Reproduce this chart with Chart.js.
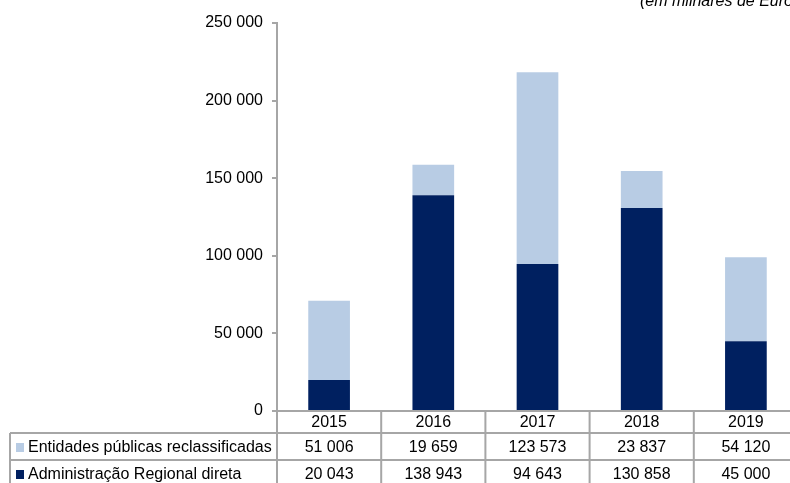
<!DOCTYPE html>
<html>
<head>
<meta charset="utf-8">
<script src="https://cdn.jsdelivr.net/npm/chart.js@4/dist/chart.umd.min.js"></script>
<style>
body { margin: 0; overflow: hidden; background: #fff; }
#wrap { width: 800px; height: 490px; }
</style>
</head>
<body>
<div id="wrap"><canvas id="chart" width="800" height="490"></canvas></div>
<script>
'use strict';

// Data

const years = ['2015', '2016', '2017', '2018', '2019'];
const entidades = [51006, 19659, 123573, 23837, 54120];
const administracao = [20043, 138943, 94643, 130858, 45000];
const seriesNames = ['Entidades públicas reclassificadas', 'Administração Regional direta'];
const unitNote = '(em milhares de Euros)';

const darkBlue = '#002060';
const lightBlue = '#b8cce4';
const lineGray = '#a6a6a6';
const font = '16px "Liberation Sans", Arial, sans-serif';

// Thousands with a space

function fmt(n) {
    return String(n).replace(/\B(?=(\d{3})+(?!\d))/g, ' ');
}

// Data table under the chart

const tablePlugin = {
    id: 'dataTable',
    afterDraw(chart) {
        const ctx = chart.ctx;
        const area = chart.chartArea;
        const colW = (area.right - area.left) / years.length;
        const top = area.bottom;
        const row0 = top + 22;
        const row1 = row0 + 27;
        const row2 = row1 + 28;
        const tableLeft = 10;

        ctx.save();
        ctx.strokeStyle = lineGray;
        ctx.lineWidth = 2;
        ctx.beginPath();
        // horizontal lines
        ctx.moveTo(tableLeft, row0); ctx.lineTo(area.right, row0);
        ctx.moveTo(tableLeft, row1); ctx.lineTo(area.right, row1);
        ctx.moveTo(tableLeft, row2); ctx.lineTo(area.right, row2);
        // vertical lines
        ctx.moveTo(tableLeft, row0); ctx.lineTo(tableLeft, row2);
        for (let i = 0; i <= years.length; i++) {
            const x = area.left + i * colW;
            ctx.moveTo(x, top); ctx.lineTo(x, row2);
        }
        ctx.stroke();

        ctx.font = font;
        ctx.fillStyle = '#000';
        ctx.textBaseline = 'middle';
        ctx.textAlign = 'center';
        for (let i = 0; i < years.length; i++) {
            const cx = chart.scales.x.getPixelForValue(i);
            ctx.fillText(years[i], cx, (top + row0) / 2 + 1);
            ctx.fillText(fmt(entidades[i]), cx, (row0 + row1) / 2 + 1);
            ctx.fillText(fmt(administracao[i]), cx, (row1 + row2) / 2 + 1);
        }

        // legend keys
        ctx.textAlign = 'left';
        ctx.fillStyle = lightBlue;
        ctx.fillRect(16, row0 + 10, 8, 9);
        ctx.fillStyle = darkBlue;
        ctx.fillRect(16, row1 + 10, 8, 9);
        ctx.fillStyle = '#000';
        ctx.fillText(seriesNames[0], 28, (row0 + row1) / 2 + 1);
        ctx.fillText(seriesNames[1], 28, (row1 + row2) / 2 + 1);

        // unit note
        ctx.font = 'italic ' + font;
        ctx.textBaseline = 'alphabetic';
        ctx.fillText(unitNote, 640, 6);
        ctx.restore();
    }
};

new Chart(document.getElementById('chart').getContext('2d'), {
    type: 'bar',
    data: {
        labels: years,
        datasets: [{
            label: seriesNames[1],
            data: administracao,
            backgroundColor: darkBlue,
            barPercentage: 0.4,
            categoryPercentage: 1
        }, {
            label: seriesNames[0],
            data: entidades,
            backgroundColor: lightBlue,
            barPercentage: 0.4,
            categoryPercentage: 1
        }]
    },
    options: {
        responsive: false,
        animation: false,
        layout: {padding: {top: 23, right: 2, bottom: 79, left: 0}},
        plugins: {legend: {display: false}, tooltip: {enabled: false}},
        scales: {
            x: {
                stacked: true,
                ticks: {display: false},
                grid: {display: false},
                border: {display: true, color: lineGray, width: 2},
                afterFit: scale => { scale.height = 0; }
            },
            y: {
                stacked: true,
                min: 0,
                max: 250000,
                ticks: {
                    stepSize: 50000,
                    padding: 9,
                    color: '#000',
                    font: {family: '"Liberation Sans", Arial, sans-serif', size: 16},
                    callback: v => fmt(v)
                },
                grid: {drawOnChartArea: false, drawTicks: true, tickLength: 5, color: lineGray, lineWidth: 2},
                border: {display: true, color: lineGray, width: 2},
                afterFit: scale => { scale.width = 277; }
            }
        }
    },
    plugins: [tablePlugin]
});
</script>
</body>
</html>
